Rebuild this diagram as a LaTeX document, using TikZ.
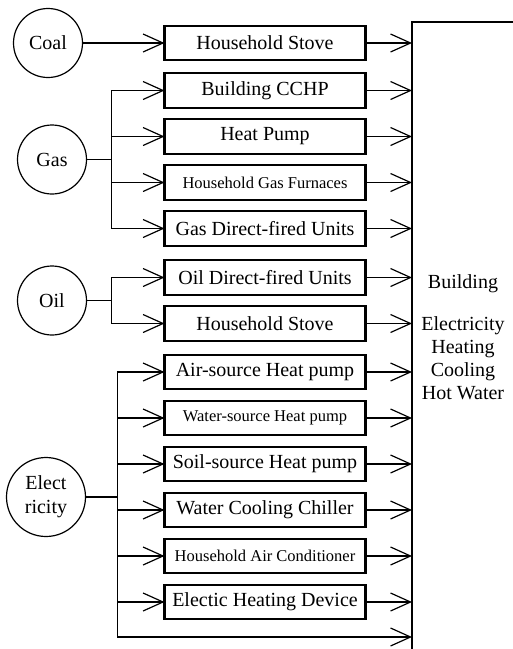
\documentclass[tikz,border=0pt]{standalone}
\usepackage{fontspec}
\setmainfont{Liberation Serif}
\newfontfamily\boxfont{Liberation Serif}
\usetikzlibrary{positioning, calc, arrows.meta}

\begin{document}
\begin{tikzpicture}[
  x=1pt, y=-1pt,
  every node/.style={font=\boxfont\fontsize{20}{23}\selectfont},
  device/.style={rectangle, draw, line width=2.4pt, outer sep=0pt, inner sep=1pt, minimum width=201pt, minimum height=34.5pt},
  smalltext/.style={font=\boxfont\fontsize{16.5}{19}\selectfont},
  source/.style={circle, draw, line width=1.2pt, outer sep=0pt, inner sep=0pt, minimum size=69pt, align=center},
  arrow/.style={-{Straight Barb[length=20pt, width=18pt]}, line width=1.2pt},
  feed/.style={line width=1.2pt},
  node distance=11.5pt
]
\useasboundingbox (0,0) rectangle (513,649);

%------------------------------------------------
% Conversion devices
%------------------------------------------------
\node[device] (stove1) at (265,43) {Household Stove};
\node[device, below=13pt of stove1] (cchp) {Building CCHP};
\node[device, below=of cchp] (hpump) {Heat Pump};
\node[device, smalltext, below=of hpump] (furn) {Household Gas Furnaces};
\node[device, below=of furn] (gasdir) {Gas Direct-fired Units};
\node[device, below=14.5pt of gasdir] (oildir) {Oil Direct-fired Units};
\node[device, below=of oildir] (stove2) {Household Stove};
\node[device, below=14pt of stove2] (airhp) {Air-source Heat pump};
\node[device, smalltext, below=of airhp] (waterhp) {Water-source Heat pump};
\node[device, below=of waterhp] (soilhp) {Soil-source Heat pump};
\node[device, below=of soilhp] (chiller) {Water Cooling Chiller};
\node[device, smalltext, below=of chiller] (aircon) {Household Air Conditioner};
\node[device, below=of aircon] (eheat) {Electic Heating Device};

%------------------------------------------------
% Energy sources
%------------------------------------------------
\node[source, left=82pt of stove1] (coal) {Coal};
\node[source, left=78pt of $(hpump.west)!0.5!(furn.west)$] (gas) {Gas};
\node[source, left=78pt of $(oildir.west)!0.5!(stove2.west)$] (oil) {Oil};
\node[source, minimum size=79pt, font=\boxfont\fontsize{20}{24}\selectfont] (elec) at (46,497) {Elect\\ricity};

% Building
\node[draw, line width=1.2pt, outer sep=0pt, minimum width=102pt, minimum height=630pt, align=center] (bldg) at (463,337)
  {Building\\[19pt]Electricity\\Heating\\Cooling\\Hot Water};

% Junctions
\coordinate (gasj) at ($(gas.east)+(25,0)$);
\coordinate (oilj) at ($(oil.east)+(25,0)$);
\coordinate (elecj) at ($(elec.east)+(32,0)$);
\coordinate (elecin) at ($(eheat.east -| bldg.west)+(0,35)$);

%------------------------------------------------
% Source arrows
%------------------------------------------------
\draw[arrow] (coal.east) -- (stove1.west);

\draw[feed] (gas.east) -- (gasj);
\foreach \n in {cchp, hpump, furn, gasdir}
  \draw[arrow] (gasj) |- (\n.west);

\draw[feed] (oil.east) -- (oilj);
\foreach \n in {oildir, stove2}
  \draw[arrow] (oilj) |- (\n.west);

\draw[feed] (elec.east) -- (elecj);
\foreach \n in {airhp, waterhp, soilhp, chiller, aircon, eheat}
  \draw[arrow] (elecj) |- (\n.west);
\draw[arrow] (elecj) |- (elecin);

%------------------------------------------------
% Device to building arrows
%------------------------------------------------
\foreach \n in {stove1, cchp, hpump, furn, gasdir, oildir, stove2, airhp, waterhp, soilhp, chiller, aircon, eheat}
  \draw[arrow] (\n.east) -- (\n.east -| bldg.west);

\end{tikzpicture}
\end{document}
